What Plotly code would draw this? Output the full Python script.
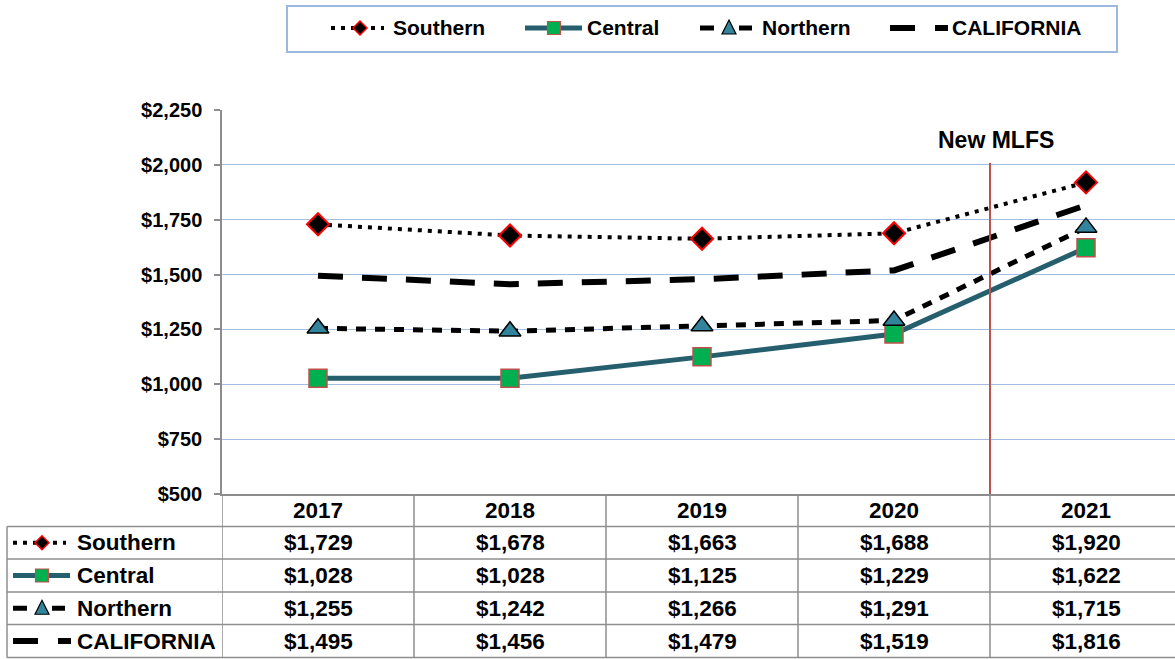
import plotly.graph_objects as go

W, H = 1175, 659

# ---- data -------------------------------------------------------------
years = ["2017", "2018", "2019", "2020", "2021"]
southern = [1729, 1678, 1663, 1688, 1920]
central = [1028, 1028, 1125, 1229, 1622]
northern = [1255, 1242, 1266, 1291, 1715]
california = [1495, 1456, 1479, 1519, 1816]
series_names = ["Southern", "Central", "Northern", "CALIFORNIA"]
y_ticks = [500, 750, 1000, 1250, 1500, 1750, 2000, 2250]
y_tick_text = ["$500", "$750", "$1,000", "$1,250", "$1,500", "$1,750",
               "$2,000", "$2,250"]
marker_label = "New MLFS"
marker_year_boundary = 3.5   # between 2020 and 2021

series_values = {
    "Southern": southern,
    "Central": central,
    "Northern": northern,
    "CALIFORNIA": california,
}

# ---- styling ----------------------------------------------------------
FONT = "Liberation Sans, Arial, sans-serif"
TEAL_LINE = "#255F6D"
GREEN = "#00B050"
SQ_EDGE = "#C0504D"
TRI_FILL = "#31849B"
GRID = "#A4BEE2"
AXIS_GRAY = "#8C8C8C"

STYLE = {
    "Southern": dict(
        line=dict(color="black", width=4, dash="4px,6px"),
        marker=dict(symbol="diamond", size=17, color="black",
                    line=dict(color="#FF0000", width=2)),
        mode="lines+markers"),
    "Central": dict(
        line=dict(color=TEAL_LINE, width=5),
        marker=dict(symbol="square", size=18, color=GREEN,
                    line=dict(color=SQ_EDGE, width=1.5)),
        mode="lines+markers"),
    "Northern": dict(
        line=dict(color="black", width=5, dash="10px,9px"),
        marker=dict(symbol="triangle-up", size=19, color=TRI_FILL,
                    line=dict(color="black", width=1.5)),
        mode="lines+markers"),
    "CALIFORNIA": dict(
        line=dict(color="black", width=6, dash="25px,19px"),
        marker=None,
        mode="lines"),
}

# pixel -> paper helpers (figure has zero margins)
def fx(px):
    return px / W


def fy(py):
    return 1 - py / H


# plot area in pixels
PX_LEFT, PX_TOP, PX_BOTTOM = 222, 110, 494
COL_W = 192

fig = go.Figure()

for name in ["Central", "CALIFORNIA", "Northern", "Southern"]:
    st = STYLE[name]
    kw = dict(x=years, y=series_values[name], name=name, mode=st["mode"],
              line=st["line"], showlegend=False, cliponaxis=False)
    if st["marker"] is not None:
        kw["marker"] = st["marker"]
    fig.add_trace(go.Scatter(**kw))

shapes = []
annotations = []

# ---- vertical "New MLFS" marker ----------------------------------------
shapes.append(dict(type="line", xref="x", yref="y",
                   x0=marker_year_boundary, x1=marker_year_boundary,
                   y0=500, y1=2008,
                   line=dict(color="#C0504D", width=2), layer="above"))
annotations.append(dict(xref="x", yref="paper", x=marker_year_boundary,
                        xshift=6, y=fy(140), text="<b>%s</b>" % marker_label,
                        showarrow=False, xanchor="center", yanchor="middle",
                        font=dict(family=FONT, size=23, color="black")))


# ---- legend-style line samples -----------------------------------------
def add_sample(name, x0, yc):
    def seg(a, b, width, color, dash="solid"):
        shapes.append(dict(type="line", xref="paper", yref="paper",
                           x0=fx(x0 + a), x1=fx(x0 + b), y0=fy(yc), y1=fy(yc),
                           line=dict(color=color, width=width, dash=dash),
                           layer="above"))

    cx = x0 + 29
    if name == "Southern":
        seg(0, 53, 4, "black", "4px,6px")
        r = 7
        path = "M %f,%f L %f,%f L %f,%f L %f,%f Z" % (
            fx(cx - r), fy(yc), fx(cx), fy(yc - r),
            fx(cx + r), fy(yc), fx(cx), fy(yc + r))
        shapes.append(dict(type="path", xref="paper", yref="paper", path=path,
                           fillcolor="black", line=dict(color="#FF0000", width=1.5),
                           layer="above"))
    elif name == "Central":
        seg(0, 57, 5, TEAL_LINE)
        r = 6.5
        shapes.append(dict(type="rect", xref="paper", yref="paper",
                           x0=fx(cx - r), x1=fx(cx + r), y0=fy(yc + r), y1=fy(yc - r),
                           fillcolor=GREEN, line=dict(color=SQ_EDGE, width=1.2),
                           layer="above"))
    elif name == "Northern":
        seg(0, 14, 5, "black")
        seg(39, 52, 5, "black")
        path = "M %f,%f L %f,%f L %f,%f Z" % (
            fx(cx - 7), fy(yc + 6), fx(cx + 7), fy(yc + 6), fx(cx), fy(yc - 8))
        shapes.append(dict(type="path", xref="paper", yref="paper", path=path,
                           fillcolor=TRI_FILL, line=dict(color="black", width=1.2),
                           layer="above"))
    else:
        seg(0, 25, 6, "black")
        seg(45, 58, 6, "black")


# ---- top legend box ----------------------------------------------------
shapes.append(dict(type="rect", xref="paper", yref="paper",
                   x0=fx(287), x1=fx(1117), y0=fy(52), y1=fy(6),
                   line=dict(color="#9DB8DE", width=2), fillcolor="white",
                   layer="below"))
legend_x = [331, 525, 700, 890]
for name, lx in zip(series_names, legend_x):
    add_sample(name, lx, 28)
    annotations.append(dict(xref="paper", yref="paper", x=fx(lx + 60), y=fy(28),
                            text="<b>%s</b>" % name, showarrow=False,
                            xanchor="left", yanchor="middle",
                            font=dict(family=FONT, size=21, color="black")))

# ---- data table under the plot ----------------------------------------
row_lines = [526.5, 559, 592, 624.5, 657.5]
header_center = 510.5
TABLE_LINE = dict(color="#8E8E8E", width=1.5)
TABLE_FONT = dict(family=FONT, size=22.5, color="black")

# horizontal rules
for ry in row_lines:
    shapes.append(dict(type="line", xref="paper", yref="paper",
                       x0=fx(7), x1=1, y0=fy(ry), y1=fy(ry), line=TABLE_LINE))
# left border of the series column
shapes.append(dict(type="line", xref="paper", yref="paper",
                   x0=fx(7), x1=fx(7), y0=fy(row_lines[0]), y1=fy(row_lines[-1]),
                   line=TABLE_LINE))
# column separators follow the category boundaries
for i in range(len(years)):
    b = i - 0.5
    shapes.append(dict(type="line", xref="x", yref="paper",
                       x0=b, x1=b, y0=fy(PX_BOTTOM), y1=fy(row_lines[-1]),
                       line=TABLE_LINE))

# year header (numeric category index keeps the axis from reading "2017" as a number)
for i, yr in enumerate(years):
    annotations.append(dict(xref="x", yref="paper", x=i, y=fy(header_center),
                            text="<b>%s</b>" % yr, showarrow=False,
                            xanchor="center", yanchor="middle", font=TABLE_FONT))

# series rows
for r, name in enumerate(series_names):
    yc = (row_lines[r] + row_lines[r + 1]) / 2
    add_sample(name, 13, yc)
    annotations.append(dict(xref="paper", yref="paper", x=fx(75), y=fy(yc),
                            text="<b>%s</b>" % name, showarrow=False,
                            xanchor="left", yanchor="middle", font=TABLE_FONT))
    for i, v in enumerate(series_values[name]):
        annotations.append(dict(xref="x", yref="paper", x=i, y=fy(yc),
                                text="<b>${:,}</b>".format(v), showarrow=False,
                                xanchor="center", yanchor="middle", font=TABLE_FONT))

# ---- axes --------------------------------------------------------------
x_max = len(years) - 0.5 - (PX_LEFT + COL_W * len(years) - W) / COL_W

fig.update_layout(
    width=W, height=H,
    margin=dict(l=0, r=0, t=0, b=0, autoexpand=False),
    paper_bgcolor="white", plot_bgcolor="white",
    showlegend=False,
    shapes=shapes,
    annotations=annotations,
    xaxis=dict(domain=[fx(PX_LEFT), 1], type="category",
               range=[-0.5, x_max], showgrid=False, zeroline=False,
               showticklabels=False, ticks="",
               showline=True, linecolor=AXIS_GRAY, linewidth=1.5),
    yaxis=dict(domain=[fy(PX_BOTTOM), fy(PX_TOP)], range=[500, 2250],
               tickvals=y_ticks, ticktext=y_tick_text,
               showgrid=True, gridcolor=GRID, gridwidth=1.2, zeroline=False,
               showline=True, linecolor=AXIS_GRAY, linewidth=1.5,
               ticks="outside", ticklen=6, tickcolor=AXIS_GRAY, tickwidth=1.5,
               ticklabelstandoff=8,
               tickfont=dict(family=FONT, size=20, color="black", weight="bold")),
)

fig.write_html("out.html")
